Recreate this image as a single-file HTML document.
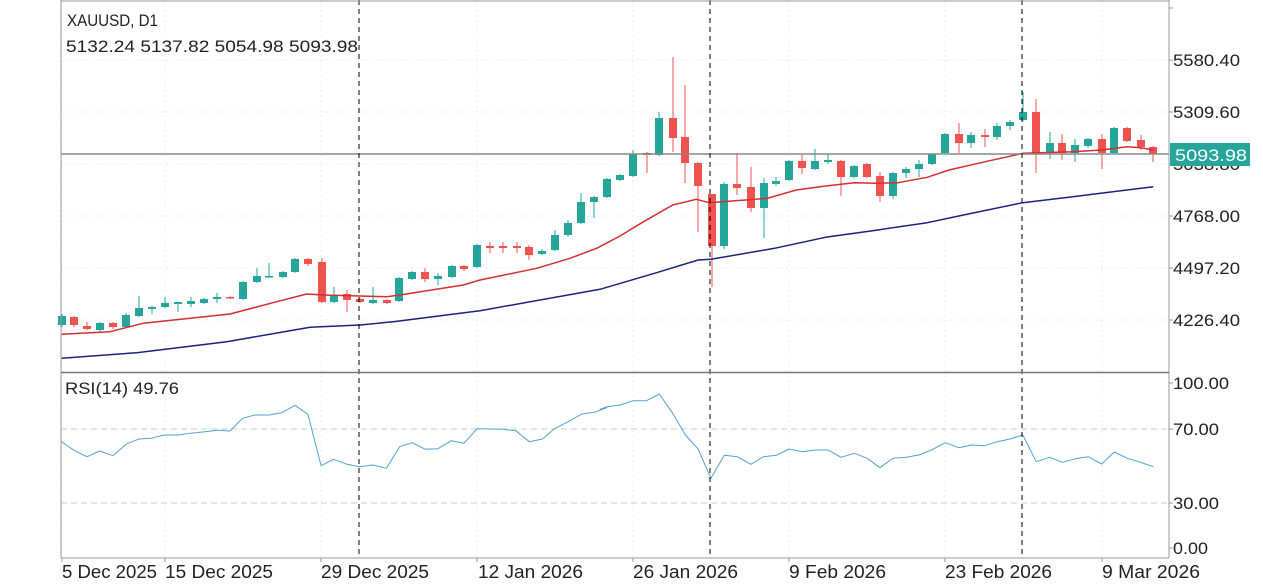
<!DOCTYPE html>
<html><head><meta charset="utf-8"><style>
body{margin:0;background:#fff;}
svg{display:block;font-family:"Liberation Sans",sans-serif;}
</style></head><body>
<svg id="s" width="1263" height="585" xmlns="http://www.w3.org/2000/svg"></svg>
<script>
const s=document.getElementById('s');let h='';
const G='#26a69a',R='#ef5350';
[60,112,164,216,268,320].forEach(y=>h+=`<line x1="61" y1="${y}" x2="1169" y2="${y}" stroke="#eee" stroke-dasharray="2,3"/>`);
[62,165,321,477,633,789,945,1102].forEach(x=>h+=`<line x1="${x}" y1="0" x2="${x}" y2="558" stroke="#eee" stroke-dasharray="2,3"/>`);
h+=`<line x1="61" y1="429" x2="1169" y2="429" stroke="#ccc" stroke-dasharray="6,4"/>`;
h+=`<line x1="61" y1="503" x2="1169" y2="503" stroke="#ccc" stroke-dasharray="6,4"/>`;
const c=[[62,316,325,314,327,G],[74,317,325,316,327,R],[87,326,329,322,330,R],[100,323,330,322,332,G],[113,323,327,322,329,R],[126,315,327,313,328,G],[139,308,316,296,317,G],[152,307,309,306,314,G],[165,303,307,297,308,G],[178,302,304,302,312,G],[191,301,304,297,307,G],[204,299,303,298,304,G],[217,297,299,293,303,G],[230,297,298,296,299,R],[243,282,299,281,300,G],[257,276,282,268,283,G],[269,276,277,263,278,G],[283,272,277,271,278,G],[295,259,272,258,273,G],[308,259,264,258,266,R],[322,262,302,258,303,R],[334,295,302,287,303,G],[347,294,300,290,312,R],[360,299,302,298,303,R],[373,300,303,287,304,G],[387,300,303,299,304,R],[399,278,301,277,302,G],[412,272,279,271,280,G],[425,272,279,268,282,R],[438,276,279,273,285,G],[452,266,277,265,278,G],[464,266,269,265,271,R],[477,245,267,244,268,G],
[490,246,248,242,253,R],[503,246,248,242,253,R],[517,246,248,242,253,R],[529,247,255,245,260,R],[542,251,254,249,255,G],[555,235,250,230,251,G],[568,223,235,220,237,G],[581,202,223,193,224,G],[594,197,202,196,218,G],
[607,179,197,178,198,G],[620,175,180,174,181,G],[633,154,176,150,177,G],[647,153,155,152,173,R],[659,118,155,112,156,G],[673,118,138,57,152,R],[685,137,163,85,183,R],[698,163,186,162,232,R],[712,194,246,194,287,R],[724,184,246,182,249,G],[737,184,188,153,195,R],[751,187,208,167,212,R],[764,183,208,178,238,G],[776,181,184,177,186,G],[789,161,180,160,181,G],[802,161,168,155,174,R],[815,161,169,149,170,G],[828,160,162,154,164,G],[841,161,177,160,196,R],[854,166,177,165,178,G],[867,164,177,163,178,R],[880,176,196,172,202,R],[893,173,196,172,199,G],[906,169,173,167,178,G],[919,164,169,160,177,G],[932,154,164,153,165,G],[945,134,153,133,154,G],[959,134,143,123,153,R],[971,135,143,132,148,G],[985,135,137,129,147,R],[997,126,137,123,140,G],[1010,122,126,120,130,G],[1023,112,120,92,121,G],[1036,112,153,99,173,R],[1050,143,153,132,159,G],[1062,143,153,134,160,R],[1075,145,153,139,162,G],[1088,139,146,138,148,G],[1102,139,153,134,169,R],[1114,128,153,127,154,G],[1127,128,141,127,142,R],[1141,140,147,135,150,R],[1153,147,154,146,162,R]];
c.forEach(([x,t,b,hi,lo,col])=>{h+=`<line x1="${x}" y1="${hi}" x2="${x}" y2="${lo}" stroke="${col}" stroke-width="1"/><rect x="${x-4}" y="${t}" width="8" height="${Math.max(1.5,b-t)}" fill="${col}"/>`;});
function z1(p){return p.map(([X,Y])=>[60+X/3,40+Y/3]);}
function z3(p){return p.map(([X,Y])=>[470+X/3,150+Y/3]);}
function z2(p){return p.map(([X,Y])=>[600+X/2.751,40+Y/3]);}
function pl(pts,col,w){return `<polyline fill="none" stroke="${col}" stroke-width="${w}" stroke-linejoin="round" points="${pts.map(p=>p[0].toFixed(1)+','+p[1].toFixed(1)).join(' ')}"/>`;}
const red=[...z1([[5,883],[150,875],[250,850],[510,822],[650,785],[740,762],[790,765],[980,770],[1020,765],[1210,735]]),...z3([[30,390],[200,355],[300,325],[380,295],[450,258]]),...z2([[120,545],[200,495],[265,478],[300,488],[400,480],[460,475],[540,450],[620,438],[700,428],[760,430],[820,428],[900,412],[960,390],[1060,365],[1163,340],[1300,335],[1380,330],[1450,320],[1487,323],[1522,330]])];
const blue=[...z1([[5,955],[230,938],[500,905],[750,862],[900,855],[1000,845],[1260,812]]),...z2([[0,748],[150,700],[270,660],[305,658],[480,625],[620,592],[750,572],[900,548],[1000,525],[1163,488],[1300,470],[1522,440]])];
h+=pl(red,'#d32f2f',1.5)+pl(blue,'#1a237e',1.5);
h+=`<line x1="61" y1="154" x2="1169" y2="154" stroke="#888" stroke-width="1.5"/>`;
const r5=[[18,215],[55,242],[90,260],[125,243],[162,257],[200,222],[235,207],[270,205],[305,195],[345,195],[380,190],[420,185],[455,181],[490,183],[525,145],[560,135],[600,135],[635,128],[672,106],[708,133],[745,287],[780,268],[818,283],[852,290],[890,285],[928,295],[965,230],[1000,218],[1037,238],[1072,236],[1110,212],[1145,220],[1182,176],[1220,177],[1255,178],[1290,182],[1328,215],[1365,207],[1400,175],[1437,155],[1475,132],[1510,127],[1545,113]].map(([X,Y])=>[55+X/2.8,370+Y/3]);
const r6=[[0,118],[20,110],[55,105],[92,92],[128,92],[163,72],[200,130],[235,195],[270,237],[305,325],[342,256],[378,260],[415,283],[450,260],[485,256],[520,237],[557,245],[592,240],[628,240],[663,262],[700,250],[735,265],[770,293],[806,265],[842,262],[877,255],[912,240],[950,218],[987,233],[1022,225],[1058,227],[1093,215],[1128,207],[1163,195],[1200,275],[1237,262],[1272,277],[1308,266],[1343,260],[1380,282],[1415,246],[1450,265],[1487,277],[1522,290]].map(([X,Y])=>[600+X/2.751,370+Y/3]);
h+=pl([...r5,...r6],'#5a9fd4',1);
[359,710,1022].forEach(x=>h+=`<line x1="${x}" y1="0" x2="${x}" y2="558" stroke="#000" stroke-dasharray="5,4"/>`);
h+=`<line x1="61" y1="0" x2="61" y2="558" stroke="#999"/><line x1="1169" y1="0" x2="1169" y2="558" stroke="#999"/><line x1="61" y1="1" x2="1169" y2="1" stroke="#999"/>`;
h+=`<line x1="61" y1="372.5" x2="1169" y2="372.5" stroke="#777" stroke-width="1.5"/><line x1="61" y1="558" x2="1169" y2="558" stroke="#999"/>`;
[8,60,112,164,216,268,320,383,429,503,548].forEach(y=>h+=`<line x1="1169" y1="${y}" x2="1173" y2="${y}" stroke="#999"/>`);
[62,165,321,477,633,789,945,1102].forEach(x=>h+=`<line x1="${x}" y1="558" x2="${x}" y2="562" stroke="#999"/>`);
const T=(x,y,t,sz,col,L)=>h+=`<text x="${x}" y="${y}" font-size="${sz}" fill="${col||'#222'}" ${L?'textLength="'+L+'" lengthAdjust="spacingAndGlyphs"':''}>${t}</text>`;
[['5580.40',60,67],['5309.60',112,67],['5038.80',164,67],['4768.00',216,67],['4497.20',268,67],['4226.40',320,67],['100.00',383,56],['70.00',429,46],['30.00',503,46],['0.00',548,35]].forEach(([t,y,L])=>T(1173,y+6,t,17,null,L));
h+=`<rect x="1170" y="143" width="80" height="23" fill="#26a69a"/>`;T(1175,161,'5093.98',17,'#fff',72);
T(67,26,'XAUUSD, D1',16.5,null,91);T(66,52,'5132.24 5137.82 5054.98 5093.98',17,null,292);T(65,394,'RSI(14) 49.76',17,null,114);
[['5 Dec 2025',62,95],['15 Dec 2025',165,108],['29 Dec 2025',321,108],['12 Jan 2026',478,105],['26 Jan 2026',633,105],['9 Feb 2026',789,97],['23 Feb 2026',945,107],['9 Mar 2026',1102,98]].forEach(([t,x,L])=>T(x,578,t,18,null,L));
s.innerHTML=h;
</script>
</body></html>
